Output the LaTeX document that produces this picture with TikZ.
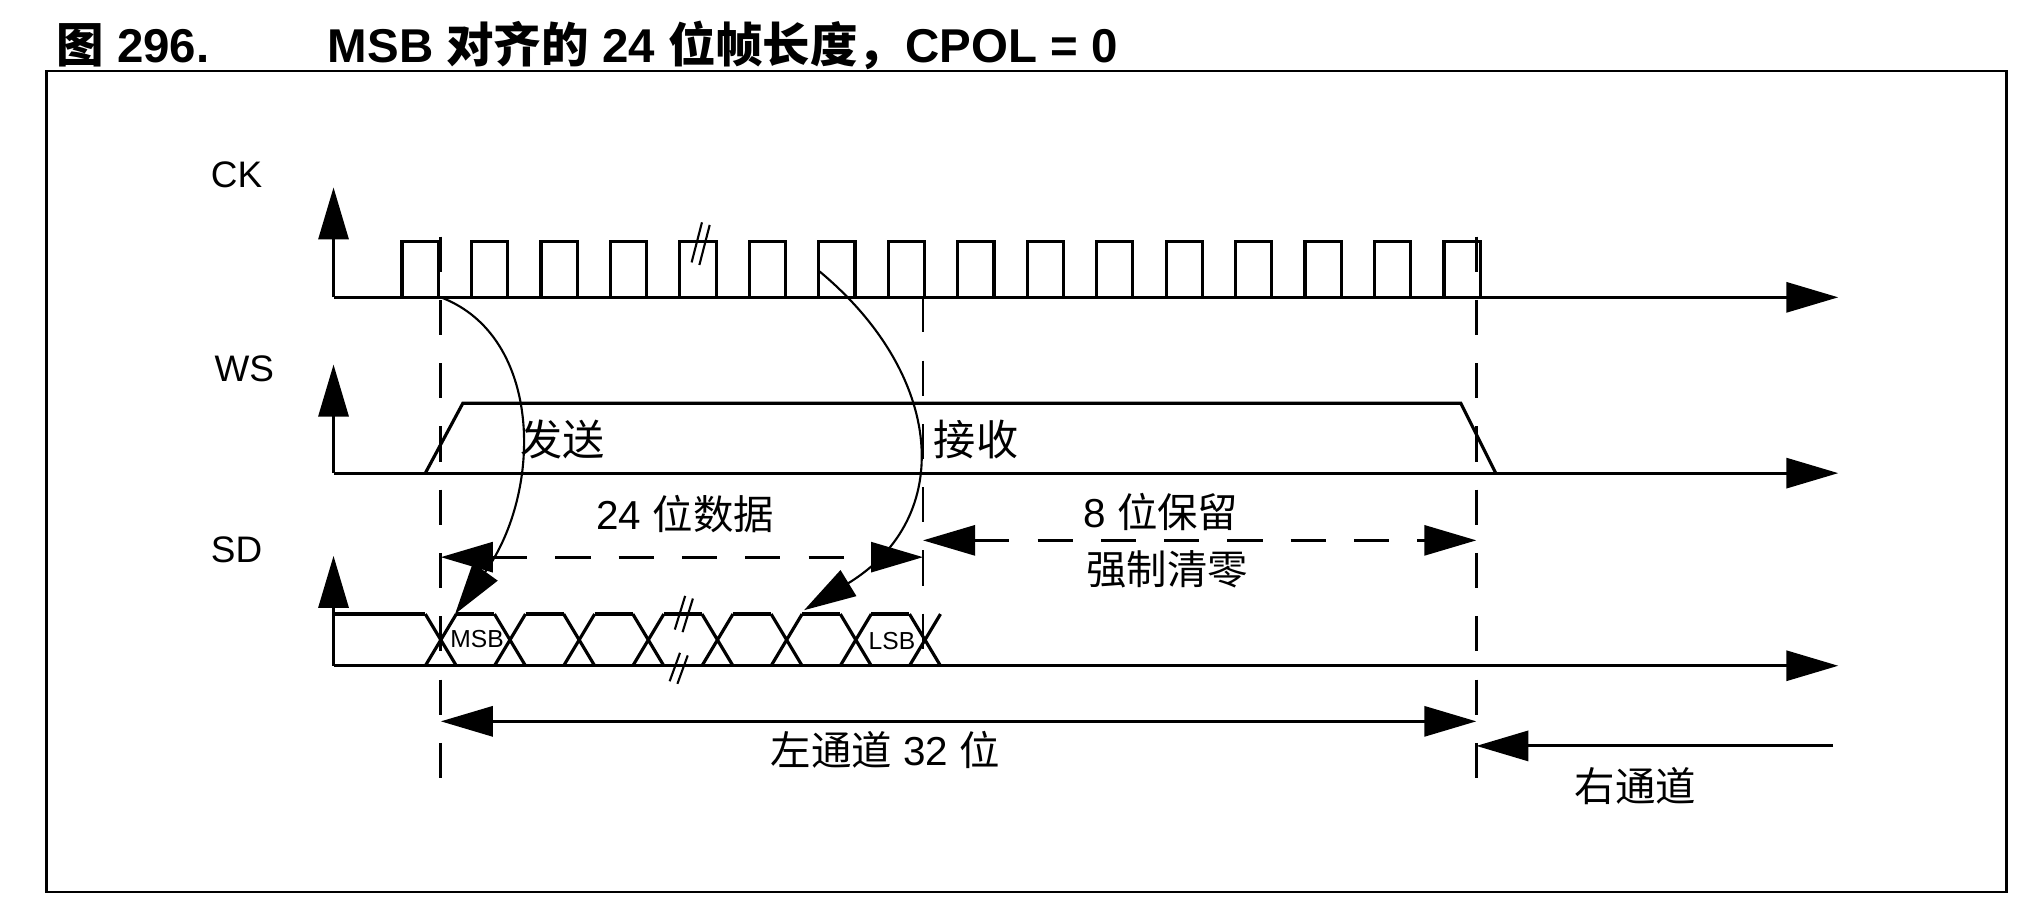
\documentclass[tikz,border=0pt]{standalone}
\usepackage{fontspec}
\setmainfont{Liberation Sans}
\newfontfamily\cjk{Noto Sans CJK SC}
\usetikzlibrary{arrows.meta}

\tikzset{
  big/.tip={Triangle[length=0.52cm, width=0.3cm]},
  sig/.style={line width=0.9pt},
  axis/.style={line width=0.9pt, -{Triangle[length=0.52cm, width=0.3cm]}},
  guide/.style={line width=0.8pt, dash pattern=on 10pt off 8pt},
  edgearc/.style={line width=0.6pt, -{Triangle[length=0.52cm, width=0.3cm]}},
  lbl/.style={font=\fontsize{10.5}{12}\selectfont},
}

\begin{document}
\begin{tikzpicture}[x=0.012927cm, y=-0.012927cm]
    \useasboundingbox (0,0) rectangle (1568,711);

    % title and frame
    \node[anchor=west, font=\fontsize{13.5}{15}\selectfont\bfseries] (fig) at (34,35) {{\cjk\bfseries 图} 296.};
    \node[anchor=west, font=\fontsize{13.5}{15}\selectfont\bfseries] (title) at (244,35) {MSB {\cjk\bfseries 对齐的} 24 {\cjk\bfseries 位帧长度，}CPOL = 0};
    \draw[line width=0.8pt] (36,55) rectangle (1552,690);

    % signal names
    \node[lbl] (ck) at (183,135) {CK};
    \node[lbl] (ws) at (189,285) {WS};
    \node[lbl] (sd) at (183,425) {SD};

    % axes
    \coordinate (ck0) at (258,230); \coordinate (ckt) at (258,145); \coordinate (cke) at (1422,230);
    \coordinate (ws0) at (258,366); \coordinate (wst) at (258,282); \coordinate (wse) at (1422,366);
    \coordinate (sd0) at (258,515); \coordinate (sdt) at (258,430); \coordinate (sde) at (1422,515);
    \draw[axis] (ck0) -- (ckt);
    \draw[axis] (ck0) -- (cke);
    \draw[axis] (ws0) -- (wst);
    \draw[axis] (ws0) -- (wse);
    \draw[axis] (sd0) -- (sdt);
    \draw[axis] (sd0) -- (sde);

    % clock pulses
    \foreach \k in {0,...,15} {
        \pgfmathsetmacro{\xa}{311+53.73*\k}
        \draw[sig] (\xa,230) -- (\xa,187) -- (\xa+28,187) -- (\xa+28,230);
    }
    \draw[line width=0.6pt] (535,203) -- (543,172) (541,205) -- (549,174);

    % word select
    \draw[sig] (329,366) -- (358,312) -- (1130,312) -- (1157,366);
    \node[lbl, font=\cjk\fontsize{12}{14}\selectfont] (tx) at (435,340) {发送};
    \node[lbl, font=\cjk\fontsize{12}{14}\selectfont] (rx) at (755,340) {接收};

    % serial data
    \draw[sig] (258,475) -- (329,475);
    \foreach \c in {0,...,7} {
        \pgfmathsetmacro{\cx}{341+53.5*\c}
        \draw[sig] (\cx-12,475) -- (\cx+12,515) (\cx-12,515) -- (\cx+12,475);
    }
    \foreach \c in {0,...,6} {
        \pgfmathsetmacro{\cx}{341+53.5*\c}
        \draw[sig] (\cx+12,475) -- (\cx+41.5,475);
    }
    \draw[line width=0.6pt] (522,487) -- (530,461) (528,489) -- (536,463);
    \draw[line width=0.6pt] (518,527) -- (526,505) (524,529) -- (532,507);
    \node[font=\fontsize{7}{8}\selectfont] (msb) at (369,494) {MSB};
    \node[font=\fontsize{7}{8}\selectfont] (lsb) at (690,496) {LSB};

    % guides
    \coordinate (g1a) at (341,183); \coordinate (g1b) at (341,608);
    \coordinate (g2a) at (714,230); \coordinate (g2b) at (714,520);
    \coordinate (g3a) at (1142,183); \coordinate (g3b) at (1142,610);
    \draw[guide] (g1a) -- (g1b);
    \draw[guide] (g2a) -- (g2b);
    \draw[guide] (g3a) -- (g3b);

    % clock edge to data
    \coordinate (e1) at (341,230); \coordinate (m1) at (352,475);
    \coordinate (e2) at (634,210); \coordinate (m2) at (622,472);
    \draw[edgearc] (e1) .. controls (420,260) and (420,380) .. (m1);
    \draw[edgearc] (e2) .. controls (730,290) and (740,400) .. (m2);

    % widths
    \coordinate (d1) at (341,431); \coordinate (d2) at (714,431);
    \coordinate (r1) at (714,418); \coordinate (r2) at (1142,418);
    \draw[guide, big-big] (d1) -- (d2);
    \draw[guide, big-big] (r1) -- (r2);
    \node[lbl, font=\fontsize{11.5}{13}\selectfont] (dat) at (530,398) {24 {\cjk 位数据}};
    \node[lbl, font=\fontsize{11.5}{13}\selectfont] (res) at (898,396) {8 {\cjk 位保留}};
    \node[lbl, font=\cjk\fontsize{11.5}{13}\selectfont] (clr) at (903,440) {强制清零};

    \coordinate (l1) at (341,558); \coordinate (l2) at (1142,558);
    \coordinate (rr1) at (1418,577); \coordinate (rr2) at (1142,577);
    \draw[sig, big-big] (l1) -- (l2);
    \draw[sig, -big] (rr1) -- (rr2);
    \node[lbl, font=\fontsize{11.5}{13}\selectfont] (left) at (685,580) {{\cjk 左通道} 32 {\cjk 位}};
    \node[lbl, font=\cjk\fontsize{11.5}{13}\selectfont] (right) at (1265,608) {右通道};
\end{tikzpicture}
\end{document}
